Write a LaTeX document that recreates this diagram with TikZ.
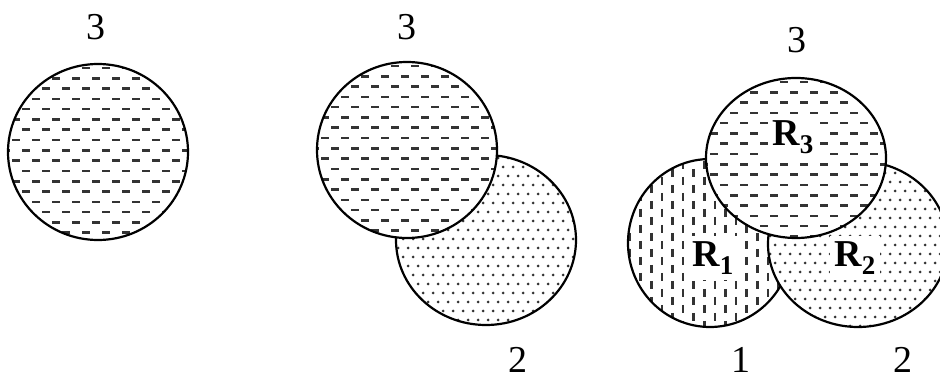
\documentclass[tikz,border=0pt]{standalone}
\usepackage{fontspec}
\setmainfont{Liberation Serif}
\tikzset{
  outline/.style={draw=black, line width=2.2pt},
  patline/.style={draw=black!80, line width=2.6pt},
  digit/.style={font=\fontsize{38}{40}\selectfont, inner sep=0pt},
  rlabel/.style={fill=white, inner sep=5pt, font=\fontsize{38}{40}\selectfont\bfseries},
}
\newcommand\patH[4]{%
  \begin{scope}
    \clip (#1,#2) ellipse [x radius=#3, y radius=#4];
    \foreach \j in {0,...,19} {
      \foreach \i in {0,...,10} {
        \draw[patline] ({#1-#3-6+\i*20+mod(\j,2)*10}, {#2-#4+4+\j*10.3}) -- ++(8,0);
      }
    }
  \end{scope}}
\newcommand\patV[4]{%
  \begin{scope}
    \clip (#1,#2) ellipse [x radius=#3, y radius=#4];
    \foreach \i in {0,...,18} {
      \foreach \j in {0,...,12} {
        \draw[patline] ({#1-#3+2+\i*10.6}, {#2-#4-6+\j*16+mod(\i,2)*8}) -- ++(0,8);
      }
    }
  \end{scope}}
\newcommand\patD[4]{%
  \begin{scope}
    \clip (#1,#2) ellipse [x radius=#3, y radius=#4];
    \foreach \j in {0,...,20} {
      \foreach \i in {0,...,19} {
        \fill[black!80] ({#1-#3+2+\i*10+mod(\j,2)*5}, {#2-#4+3+\j*9}) circle (1.5);
      }
    }
  \end{scope}}
\newcommand\circA[4]{%
  \fill[white] (#1,#2) ellipse [x radius=#3, y radius=#4];}
\begin{document}
\begin{tikzpicture}[x=1pt,y=-1pt]
\useasboundingbox (0,0) rectangle (940,379);
% centres
\coordinate (cA) at (98,152);
\coordinate (cB3) at (407,150);
\coordinate (cB2) at (486,240);
\coordinate (cC1) at (710,243);
\coordinate (cC2) at (858,244);
\coordinate (cC3) at (796,158);
% panel 1
\circA{98}{152}{90}{88}
\patH{98}{152}{90}{88}
\draw[outline] (cA) ellipse [x radius=90, y radius=88];
% panel 2
\circA{486}{240}{90}{85}
\patD{486}{240}{90}{85}
\draw[outline] (cB2) ellipse [x radius=90, y radius=85];
\circA{407}{150}{90}{88}
\patH{407}{150}{90}{88}
\draw[outline] (cB3) ellipse [x radius=90, y radius=88];
% panel 3
\circA{710}{243}{82}{84}
\patV{710}{243}{82}{84}
\draw[outline] (cC1) ellipse [x radius=82, y radius=84];
\circA{858}{244}{90}{83}
\patD{858}{244}{90}{83}
\draw[outline] (cC2) ellipse [x radius=90, y radius=83];
\circA{796}{158}{90}{80}
\patH{796}{158}{90}{80}
\draw[outline] (cC3) ellipse [x radius=90, y radius=80];
% labels
\node[digit] (t1) at (96,27) {3};
\node[digit] (t2) at (407,27) {3};
\node[digit] (t3) at (797,40) {3};
\node[digit] (b2) at (518,360) {2};
\node[digit] (b1) at (741,360) {1};
\node[digit] (b3) at (903,360) {2};
\node[rlabel] (r3) at (793,137) {R\raisebox{-0.22em}{\fontsize{27}{27}\selectfont 3}};
\node[rlabel] (r1) at (713,258) {R\raisebox{-0.22em}{\fontsize{27}{27}\selectfont 1}};
\node[rlabel] (r2) at (855,258) {R\raisebox{-0.22em}{\fontsize{27}{27}\selectfont 2}};
\end{tikzpicture}
\end{document}
